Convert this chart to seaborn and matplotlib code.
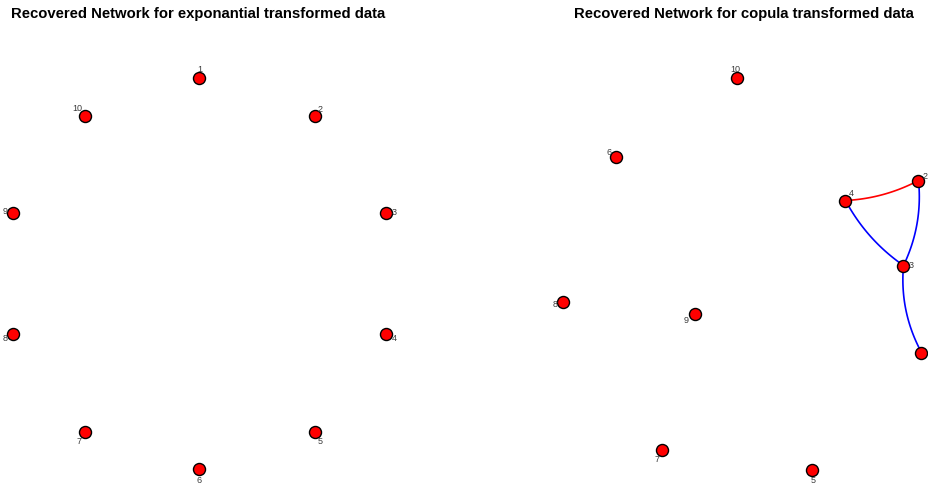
import numpy as np
import pandas as pd
import matplotlib
matplotlib.use("Agg")
import matplotlib.pyplot as plt
import seaborn as sns

sns.set_theme(style="white")
plt.rcParams["font.family"] = ["Liberation Sans", "DejaVu Sans"]

# Node layouts (canvas coordinates, y grows downward)
left_nodes = ["1", "2", "3", "4", "5", "6", "7", "8", "9", "10"]
left_x = [199, 315, 386, 386, 315, 199, 85, 13, 13, 85]
left_y = [78, 116, 213, 334, 432, 469, 432, 334, 213, 116]

right_nodes = ["1", "2", "3", "4", "5", "6", "7", "8", "9", "10"]
right_x = [921, 918, 903, 845, 812, 616, 662, 563, 695, 737]
right_y = [353, 181, 266, 201, 470, 157, 450, 302, 314, 78]

# Label offsets (dx, dy) relative to each node
left_lab_dx = [0, 5, 8, 8, 5, 0, -6, -8, -8, -8]
left_lab_dy = [-9, -7, -1, 4, 9, 11, 9, 4, -2, -8]
right_lab_dx = [8, 7, 8, 6, 1, -7, -5, -8, -9, -2]
right_lab_dy = [1, -5, -1, -8, 10, -5, 9, 2, 6, -9]

# Recovered edges of the copula network: (from, to, colour, curvature)
edge_from = ["4", "4", "2", "3"]
edge_to = ["2", "3", "3", "1"]
edge_color = ["red", "blue", "blue", "blue"]
edge_curve = [0.11, 0.12, -0.14, 0.15]

titles = ["Recovered Network for exponantial transformed data",
          "Recovered Network for copula transformed data"]

W, H = 929, 489
fig = plt.figure(figsize=(W / 100, H / 100), dpi=100)
ax = fig.add_axes([0, 0, 1, 1])

# Curved edges (quadratic Bezier between node centres)
rpos = {n: (x, y) for n, x, y in zip(right_nodes, right_x, right_y)}
t = np.linspace(0, 1, 60)
for a, b, col, c in zip(edge_from, edge_to, edge_color, edge_curve):
    (x0, y0), (x1, y1) = rpos[a], rpos[b]
    dx, dy = x1 - x0, y1 - y0
    mx, my = (x0 + x1) / 2, (y0 + y1) / 2
    cx, cy = mx - c * dy, my + c * dx
    bx = (1 - t) ** 2 * x0 + 2 * (1 - t) * t * cx + t ** 2 * x1
    by = (1 - t) ** 2 * y0 + 2 * (1 - t) * t * cy + t ** 2 * y1
    ax.plot(bx, by, color=col, lw=1.2, zorder=1, solid_capstyle="round")

nodes = pd.DataFrame({
    "x": left_x + right_x,
    "y": left_y + right_y,
})
sns.scatterplot(data=nodes, x="x", y="y", ax=ax, s=75, color="red",
                edgecolor="black", linewidth=1.0, zorder=3, legend=False)
ax.set_xlim(-0.5, W - 0.5)
ax.set_ylim(H - 0.5, -0.5)
ax.axis("off")

for names, xs, ys, ldx, ldy in [
    (left_nodes, left_x, left_y, left_lab_dx, left_lab_dy),
    (right_nodes, right_x, right_y, right_lab_dx, right_lab_dy),
]:
    for n, x, y, ddx, ddy in zip(names, xs, ys, ldx, ldy):
        ax.text(x + ddx, y + ddy, n, fontsize=6.5, color="#3a3a3a",
                ha="center", va="center", zorder=4, clip_on=False)

ax.text(197.5, 14, titles[0], fontsize=10.7, fontweight="bold",
        ha="center", va="center", color="black")
ax.text(743, 14, titles[1], fontsize=10.7, fontweight="bold",
        ha="center", va="center", color="black")

fig.savefig("out.png", dpi=100)
